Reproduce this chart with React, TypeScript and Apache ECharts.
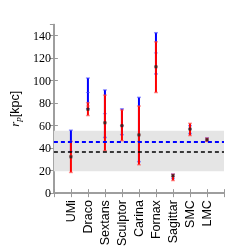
import React, { useEffect, useRef } from "react";
import * as echarts from "echarts";

const categories = ["UMi", "Draco", "Sextans", "Sculptor", "Carina", "Fornax", "Sagittar", "SMC", "LMC"];
const blueLow = [37, 75, 49.5, 52, 28, 106, 13, 53, 46.5];
const blueHigh = [56, 102.4, 91.8, 75, 85.2, 142.7, 17, 60, 49.2];
const blueMid = [46, 89.5, 70.7, 60, 46, 124.7, 15, 57, 48];
const redLow = [18.4, 69, 37.7, 46.6, 25.2, 89.5, 11.2, 51.2, 46];
const redHigh = [46, 80.5, 87.2, 74, 77.5, 134.6, 16.9, 62.1, 49];
const redMid = [33, 77.5, 62.6, 60, 51.8, 112.4, 14.5, 57, 47.5];
const pointVal = [32.3, 74.6, 62.6, 60, 51.8, 112.4, 15.5, 57, 47.5];
const bandRange = [19.5, 55.5];
const blueLine = 46;
const blackLine = 37.2;
const yTicks = [0, 20, 40, 60, 80, 100, 120, 140];

export default function App() {
  const ref = useRef<HTMLDivElement>(null);
  useEffect(() => {
    document.body.style.margin = "0";
    const chart = echarts.init(ref.current!, null, { renderer: "svg" });
    const errData = (lo: number[], hi: number[], mid: number[]) =>
      categories.map((_, i) => [i + 1, lo[i], hi[i], mid[i]]);
    const errSeries = (name: string, color: string, capColor: string, data: number[][], z: number) => ({
      type: "custom",
      name,
      z,
      data,
      encode: { x: 0, y: [1, 2] },
      renderItem: (params: any, api: any) => {
        const x = api.value(0);
        const lo = api.coord([x, api.value(1)]);
        const hi = api.coord([x, api.value(2)]);
        const mid = api.coord([x, api.value(3)]);
        const cw = 2;
        return {
          type: "group",
          children: [
            { type: "line", shape: { x1: lo[0], y1: lo[1], x2: hi[0], y2: hi[1] }, style: { stroke: color, lineWidth: 2 } },
            { type: "line", shape: { x1: lo[0] - cw, y1: lo[1], x2: lo[0] + cw, y2: lo[1] }, style: { stroke: capColor, lineWidth: 1.5 } },
            { type: "line", shape: { x1: hi[0] - cw, y1: hi[1], x2: hi[0] + cw, y2: hi[1] }, style: { stroke: capColor, lineWidth: 1.5 } },
            { type: "line", shape: { x1: mid[0] - cw, y1: mid[1], x2: mid[0] + cw, y2: mid[1] }, style: { stroke: capColor, lineWidth: 1 } },
          ],
        };
      },
    });
    chart.setOption({
      animation: false,
      grid: { left: 35, right: 25, top: 24.5, bottom: 49.5, show: false },
      xAxis: [
        {
          type: "value",
          min: 0,
          max: 10,
          interval: 1,
          axisLine: { show: true, lineStyle: { color: "#999", width: 1.5 } },
          axisTick: { show: true, inside: true, length: 4, lineStyle: { color: "#999" } },
          splitLine: { show: false },
          axisLabel: {
            rotate: 90,
            color: "#000",
            fontFamily: "Liberation Sans",
            fontSize: 12.5,
            margin: 7,
            formatter: (v: number) => (v >= 1 && v <= categories.length ? categories[v - 1] : ""),
          },
        },
        {
          type: "value",
          position: "top",
          min: 0,
          max: 10,
          interval: 1,
          axisLine: { show: true, lineStyle: { color: "#999", width: 1.5 } },
          axisTick: { show: true, inside: true, length: 4, lineStyle: { color: "#999" } },
          splitLine: { show: false },
          axisLabel: { show: false },
        },
      ],
      yAxis: [
        {
          type: "value",
          min: 0,
          max: 150,
          interval: 20,
          axisLine: { show: true, lineStyle: { color: "#999", width: 1.5 } },
          axisTick: { show: true, inside: true, length: 4, lineStyle: { color: "#999" } },
          splitLine: { show: false },
          axisLabel: {
            color: "#000",
            fontFamily: "Liberation Serif",
            fontSize: 12,
            margin: 3,
            showMaxLabel: false,
            formatter: (v: number) => (yTicks.includes(v) ? String(v) : ""),
          },
          name: "{i|r}{s|p}{n|[kpc]}",
          nameLocation: "middle",
          nameGap: 24,
          nameRotate: 90,
          nameTextStyle: {
            rich: {
              i: { fontFamily: "Liberation Serif", fontStyle: "italic", fontSize: 13, color: "#000" },
              s: { fontFamily: "Liberation Serif", fontStyle: "italic", fontSize: 9, color: "#000", verticalAlign: "bottom", padding: [6, 0, 0, 0] },
              n: { fontFamily: "Liberation Sans", fontSize: 12.5, color: "#000" },
            },
          },
        },
        {
          type: "value",
          position: "right",
          min: 0,
          max: 150,
          interval: 20,
          axisLine: { show: true, lineStyle: { color: "#999", width: 1.5 } },
          axisTick: { show: true, inside: true, length: 4, lineStyle: { color: "#999" } },
          splitLine: { show: false },
          axisLabel: { show: false },
        },
      ],
      series: [
        {
          type: "line",
          data: [],
          z: 1,
          markArea: {
            silent: true,
            itemStyle: { color: "#e5e5e5" },
            data: [[{ yAxis: bandRange[0] }, { yAxis: bandRange[1] }]],
          },
          markLine: {
            silent: true,
            symbol: "none",
            label: { show: false },
            data: [
              { yAxis: blueLine, lineStyle: { color: "#0000ff", type: [4, 3], width: 2 } },
              { yAxis: blackLine, lineStyle: { color: "#000", type: [4, 3], width: 1.5 } },
            ],
          },
        },
        errSeries("blue", "#0000ff", "rgba(80,80,255,0.6)", errData(blueLow, blueHigh, blueMid), 3),
        errSeries("red", "#ff0000", "rgba(255,80,80,0.6)", errData(redLow, redHigh, redMid), 4),
        {
          type: "scatter",
          z: 5,
          symbol: "rect",
          symbolSize: [3, 3],
          itemStyle: { color: "#222" },
          data: categories.map((_, i) => [i + 1, pointVal[i]]),
        },
      ],
    });
    return () => chart.dispose();
  }, []);
  return <div ref={ref} style={{ position: "fixed", left: 0, top: 0, width: 249, height: 249 }} />;
}
